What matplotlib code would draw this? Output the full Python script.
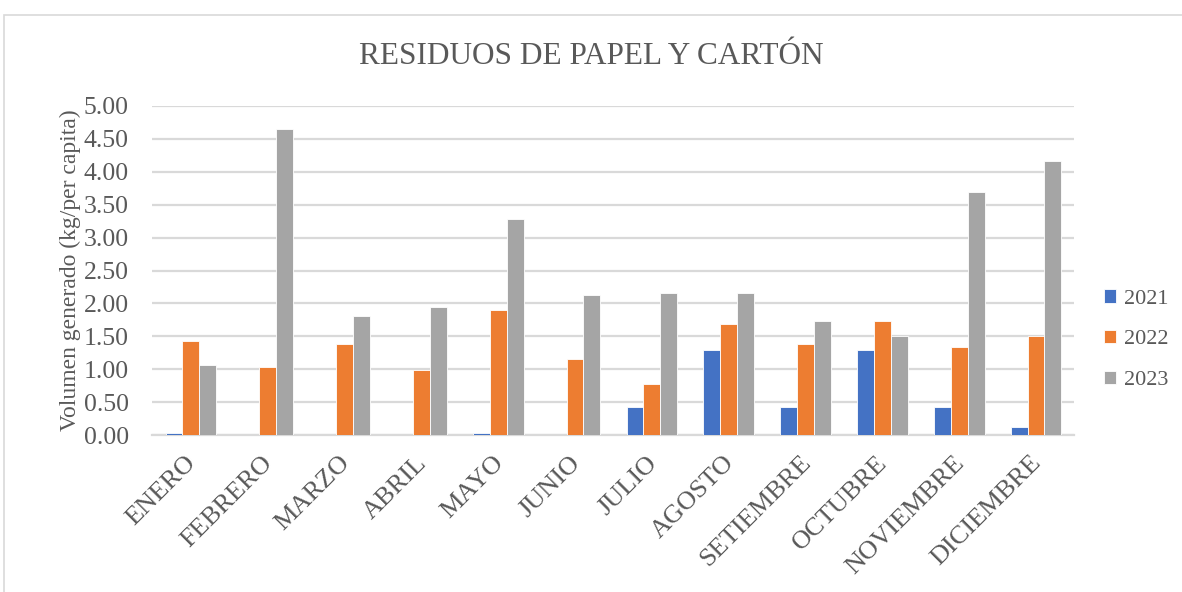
import numpy as np
import matplotlib.pyplot as plt
import matplotlib.transforms as mtrans
from matplotlib.patches import Rectangle

plt.rcParams['font.family'] = ['Liberation Serif', 'DejaVu Serif']

meses = ["ENERO", "FEBRERO", "MARZO", "ABRIL", "MAYO", "JUNIO", "JULIO",
         "AGOSTO", "SETIEMBRE", "OCTUBRE", "NOVIEMBRE", "DICIEMBRE"]
anios = ["2021", "2022", "2023"]
v2021 = [0.03, 0.00, 0.00, 0.00, 0.03, 0.00, 0.43, 1.30, 0.43, 1.30, 0.43, 0.12]
v2022 = [1.43, 1.04, 1.39, 0.99, 1.90, 1.16, 0.77, 1.69, 1.39, 1.73, 1.34, 1.51]
v2023 = [1.07, 4.65, 1.81, 1.95, 3.29, 2.13, 2.16, 2.16, 1.73, 1.51, 3.69, 4.16]
colores = ["#4472C4", "#ED7D31", "#A5A5A5"]

fig = plt.figure(figsize=(11.82, 5.92), dpi=100)
ax = fig.add_axes([0.129, 0.265, 0.78, 0.556])

x = np.arange(len(meses))
w = 0.22
for i, (serie, c, lab) in enumerate(zip([v2021, v2022, v2023], colores, anios)):
    ax.bar(x + (i - 1) * w, serie, w, color=c, label=lab,
           edgecolor="white", linewidth=0.6, zorder=3)

ax.set_ylim(0, 5)
ax.set_xlim(-0.5, len(meses) - 0.5)
ax.set_yticks(np.arange(0, 5.01, 0.5))
ax.set_yticklabels([f"{v:.2f}" for v in np.arange(0, 5.01, 0.5)])
ax.set_xticks(x)
ax.set_xticklabels(meses, rotation=45, ha="right", rotation_mode="anchor")
ax.tick_params(axis="both", length=0, labelsize=18.5, colors="#595959")
ax.tick_params(axis="x", labelsize=19)
ax.tick_params(axis="y", pad=17)
ax.tick_params(axis="x", pad=12)
# nudge month labels a little to the left
shift = mtrans.ScaledTranslation(-6 / 100, 0, fig.dpi_scale_trans)
for lbl in ax.get_xticklabels():
    lbl.set_transform(lbl.get_transform() + shift)
ax.grid(axis="y", color="#d9d9d9", linewidth=1.6, zorder=0)
for s in ["top", "right", "left"]:
    ax.spines[s].set_visible(False)
ax.spines["bottom"].set_color("#d9d9d9")
ax.spines["bottom"].set_linewidth(1.6)

ax.set_ylabel("Volumen generado (kg/per capita)", fontsize=17, color="#595959",
              labelpad=2)
fig.text(0.5, 0.904, "RESIDUOS DE PAPEL Y CARTÓN", ha="center", va="center",
         fontsize=22.5, color="#595959")

leg = ax.legend(loc="center left", bbox_to_anchor=(1.01, 0.29), frameon=False,
                fontsize=16, handlelength=0.55, handleheight=0.55,
                handletextpad=0.35, labelspacing=0.95)
for t in leg.get_texts():
    t.set_color("#595959")

fig.patches.append(Rectangle((4 / 1182, -0.02), 1.05, 1 - 15 / 592 + 0.02,
                             transform=fig.transFigure, fill=False,
                             edgecolor="#d9d9d9", linewidth=1.2))

fig.savefig("out.png", dpi=100)
